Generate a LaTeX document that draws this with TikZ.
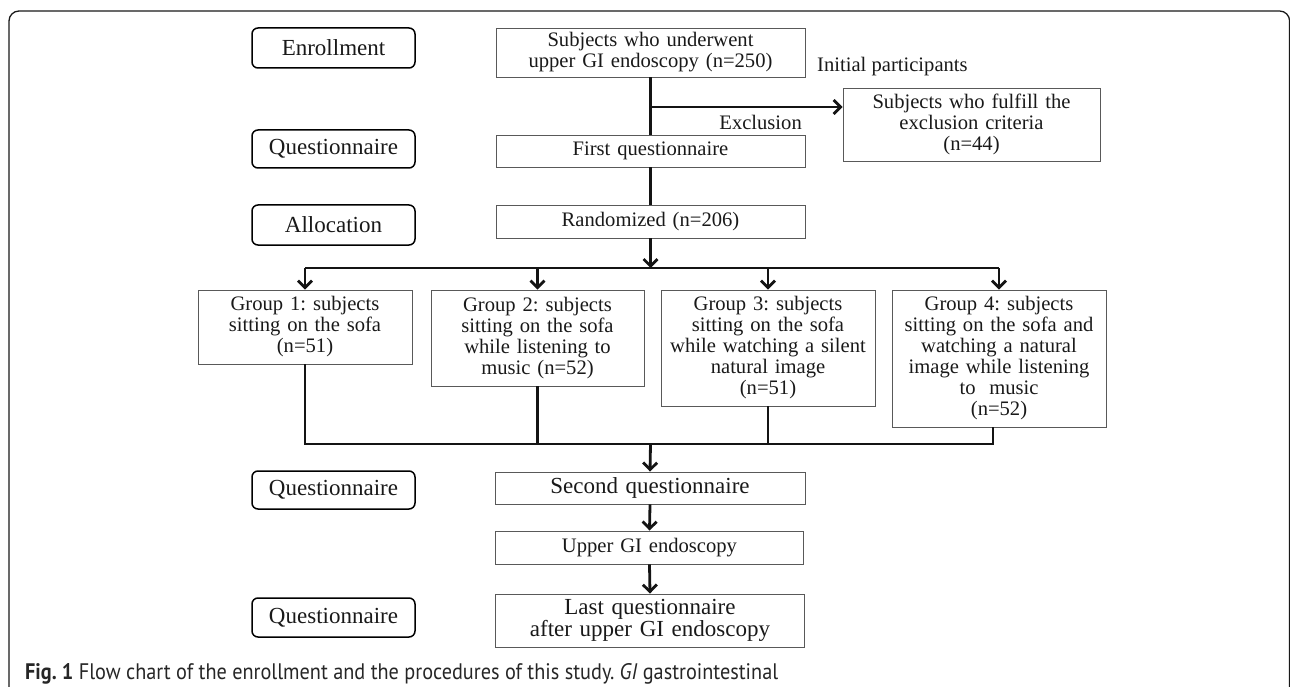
\documentclass[tikz,border=0pt]{standalone}
\usepackage{fontspec}
\usepackage{graphicx}
\setmainfont{Liberation Serif}
\newfontfamily\capfont{PT Sans}
\usetikzlibrary{arrows.meta}
\frenchspacing
\begin{document}
\frenchspacing
\begin{tikzpicture}[x=1pt,y=-1pt,
  box/.style={draw=black!65,line width=0.9pt,inner sep=0pt,align=center,text=black!90,font=\fontsize{20.6}{21}\selectfont\frenchspacing},
  bigbox/.style={box,font=\fontsize{23}{22.7}\selectfont\frenchspacing},
  lbl/.style={draw=black,line width=1.5pt,rounded corners=6pt,inner sep=0pt,align=center,text=black!90,
    minimum width=163pt,font=\fontsize{23}{23}\selectfont},
  conn/.style={line width=2.8pt,draw=black!92},
  arr/.style={conn,-{Straight Barb[length=7pt,width=14pt]}},
  plain/.style={inner sep=0pt,text=black!90,font=\fontsize{20.6}{21}\selectfont},
]
\useasboundingbox (0,0) rectangle (1290,687);
\clip (0,0) rectangle (1290,687);
\draw[line width=1.3pt,rounded corners=10pt,draw=black!90] (9,11) rectangle (1289.6,760);

% left stage labels
\node[lbl,minimum height=40pt] (lenr) at (333.5,48) {Enrollment};
\node[lbl,minimum height=38pt] (lq1) at (333.5,149) {Questionnaire};
\node[lbl,minimum height=40pt] (lall) at (333.5,225) {Allocation};
\node[lbl,minimum height=38pt] (lq2) at (333.5,490) {Questionnaire};
\node[lbl,minimum height=39pt] (lq3) at (333.5,617.5) {Questionnaire};

% centre column
\node[box,text width=309pt,minimum height=49pt] (subj) at (650.5,52.5) {Subjects who underwent\\upper GI endoscopy (n=250)};
\node[box,text width=309pt,minimum height=32pt] (first) at (650.5,151) {First questionnaire};
\node[box,text width=309pt,minimum height=33pt] (rand) at (650.5,221.5) {Randomized (n=206)};
\node[bigbox,text width=310pt,minimum height=32pt] (second) at (650,488) {Second questionnaire};
\node[box,text width=308pt,minimum height=33pt] (upper) at (649.5,547.5) {Upper GI endoscopy};
\node[bigbox,text width=309pt,minimum height=53pt] (last) at (650,620.5) {Last questionnaire\\after upper GI endoscopy};

% exclusion
\node[box,text width=257pt,minimum height=73pt] (excl) at (971.5,124.5) {Subjects who fulfill the\\exclusion criteria\\(n=44)};
\node[plain,anchor=base west] (init) at (817,72) {Initial participants};
\node[plain,anchor=base east] (exlab) at (802,130) {Exclusion};

% groups
\node[box,text width=214pt,minimum height=74pt] (g1) at (305,327) {Group 1: subjects\\sitting on the sofa\\(n=51)};
\node[box,text width=213pt,minimum height=96pt] (g2) at (537.5,338) {Group 2: subjects\\sitting on the sofa\\while listening to\\music (n=52)};
\node[box,text width=214pt,minimum height=116pt] (g3) at (768,348) {Group 3: subjects\\sitting on the sofa\\while watching a silent\\natural image\\(n=51)};
\node[box,text width=214pt,minimum height=137pt] (g4) at (999,358.5) {Group 4: subjects\\sitting on the sofa and\\watching a natural\\image while listening\\to\ \ music\\(n=52)};

% connectors
\coordinate (exc) at (650.5,107);
\coordinate (split) at (650.5,268);
\coordinate (join) at (650.5,444);
\coordinate (g4d) at (993,427);

\draw[conn] (subj.south) -- (first.north);
\draw[arr] (exc) -- (excl.west |- exc);
\draw[conn] (first.south) -- (rand.north);
\draw[arr] (rand.south) -- (split);
\draw[conn] (g1.north |- split) -- (g4.north |- split);
\draw[arr] (g1.north |- split) -- (g1.north);
\draw[arr] (g2.north |- split) -- (g2.north);
\draw[arr] (g3.north |- split) -- (g3.north);
\draw[arr] (g4.north |- split) -- (g4.north);

\draw[conn] (g1.south) -- (g1.south |- join) -- (g4d |- join) -- (g4d);
\draw[conn] (g2.south) -- (g2.south |- join);
\draw[conn] (g3.south) -- (g3.south |- join);
\draw[arr] (join) -- (second.north);
\draw[arr] (second.south) -- (upper.north);
\draw[arr] (upper.south) -- (last.north);

% caption
\node[inner sep=0pt,anchor=base west,text=black!85] (cap) at (25,679)
  {\resizebox{753pt}{16pt}{\capfont\fontsize{20}{20}\selectfont\frenchspacing\textbf{Fig. 1} Flow chart of the enrollment and the procedures of this study. \textit{GI} gastrointestinal}};
\end{tikzpicture}
\end{document}
